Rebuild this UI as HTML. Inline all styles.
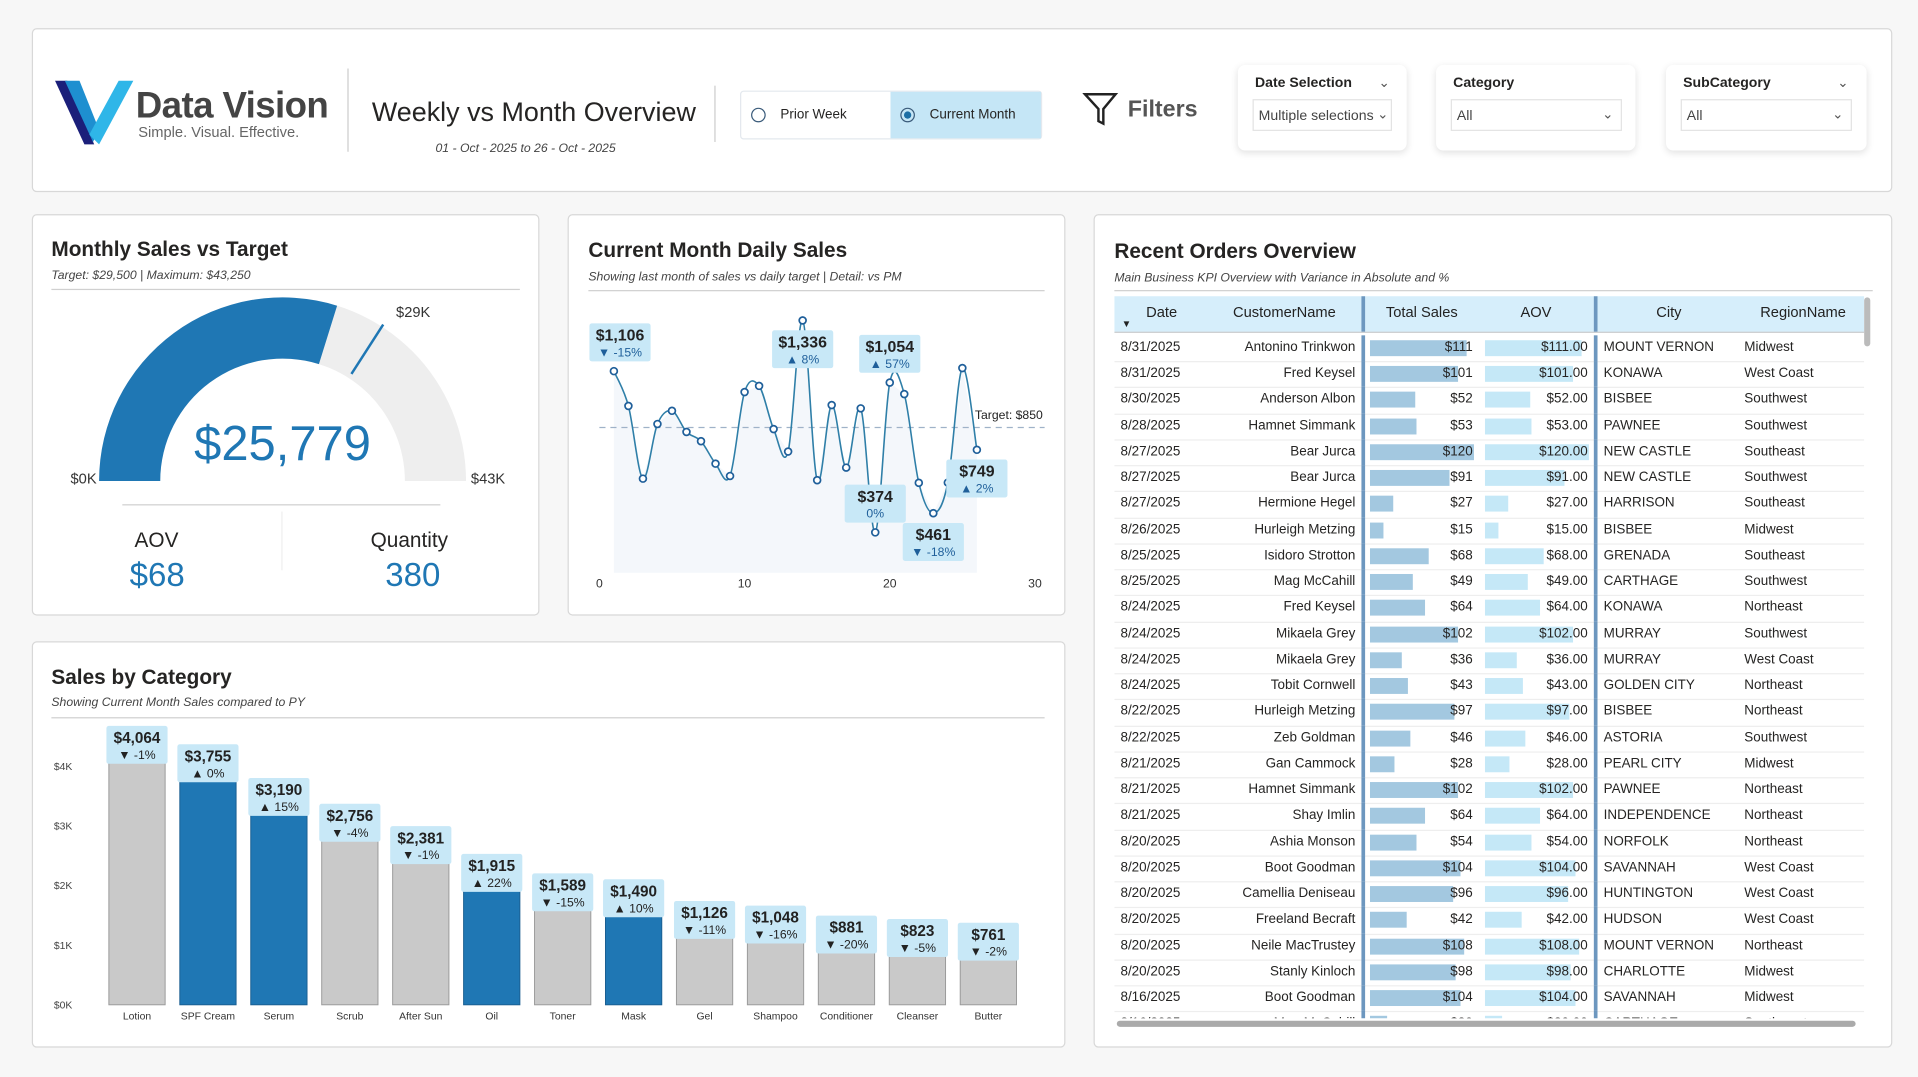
<!DOCTYPE html>
<html><head><meta charset="utf-8">
<style>
html,body{margin:0;padding:0;background:#f5f5f5;width:1918px;height:1077px;overflow:hidden;font-family:"Liberation Sans",sans-serif;}
#root{position:absolute;left:0;top:0;width:1568px;height:880px;transform:scale(1.22321,1.22386);transform-origin:0 0;background:#f7f7f7;}
.card{position:absolute;background:#fff;border:1px solid #d8d8d8;border-radius:4px;box-sizing:border-box;}
.abs{position:absolute;}
.title{position:absolute;font-size:17px;font-weight:bold;color:#252423;}
.sub{position:absolute;font-size:10px;font-style:italic;color:#444;}
.hr{position:absolute;height:1px;background:#d0d0d0;}
.slicer{position:absolute;background:#fff;border-radius:6px;box-shadow:0 2px 6px rgba(0,0,0,.12);}
.slicer .lab{position:absolute;left:14px;top:9px;font-size:11.5px;font-weight:bold;color:#252423;}
.slicer .box{position:absolute;left:12px;top:28px;height:26px;border:1px solid #e3e3e3;font-size:11.5px;color:#444;line-height:26px;padding-left:4px;box-sizing:border-box;}
.chev{position:absolute;font-size:11px;color:#555;}
</style></head><body>
<div id="root">

<div class="card" style="left:26px;top:23px;width:1521px;height:134px;">
  <svg class="abs" style="left:16px;top:38px" width="70" height="60">
    <polygon points="2,4 12,4 34,56 26,56" fill="#1b1f7a"/>
    <polygon points="10,4 22,4 38,44 33,54" fill="#1e8fd0"/>
    <polygon points="30,48 54,4 66,4 38,56" fill="#2fb6e8"/>
  </svg>
  <div class="abs" style="left:84px;top:46px;font-size:30px;font-weight:bold;color:#444;letter-spacing:-0.5px">Data Vision</div>
  <div class="abs" style="left:86px;top:77px;font-size:12px;color:#666">Simple. Visual. Effective.</div>
  <div class="abs" style="left:257px;top:32px;width:1px;height:68px;background:#ccc"></div>
  <div class="abs" style="left:277px;top:55px;font-size:22px;color:#252423">Weekly vs Month Overview</div>
  <div class="abs" style="left:329px;top:92px;font-size:10px;font-style:italic;color:#444">01 - Oct - 2025 to 26 - Oct - 2025</div>
  <div class="abs" style="left:557px;top:46px;width:1px;height:46px;background:#ccc"></div>
  <div class="abs" style="left:578px;top:50px;width:245px;height:38px;border:1px solid #e3e8ee;border-radius:3px;background:#fff">
    <div class="abs" style="left:0;top:0;width:121px;height:38px">
      <div class="abs" style="left:8px;top:13px;width:10px;height:10px;border:1px solid #3a5b7a;border-radius:50%"></div>
      <div class="abs" style="left:32px;top:13px;font-size:11px;color:#252423">Prior Week</div>
    </div>
    <div class="abs" style="left:122px;top:0;width:123px;height:38px;background:#c5e6f6">
      <div class="abs" style="left:8px;top:13px;width:10px;height:10px;border:1px solid #3a5b7a;border-radius:50%"><div class="abs" style="left:2px;top:2px;width:6px;height:6px;border-radius:50%;background:#1d6fa5"></div></div>
      <div class="abs" style="left:32px;top:13px;font-size:11px;color:#252423">Current Month</div>
    </div>
  </div>
  <svg class="abs" style="left:858px;top:50px" width="30" height="30"><path d="M2,3 L27,3 L17,15 L17,27 L13,25 L13,15 Z" fill="none" stroke="#222" stroke-width="2"/></svg>
  <div class="abs" style="left:895px;top:55px;font-size:19px;font-weight:bold;color:#555">Filters</div>
</div>
<div class="slicer" style="left:1012px;top:53px;width:138px;height:70px">
  <div class="lab">Date Selection</div><div class="chev" style="left:115px;top:8px">&#8964;</div>
  <div class="box" style="width:114px">Multiple selections<span class="chev" style="right:2px;top:-1px">&#8964;</span></div>
</div>
<div class="slicer" style="left:1174px;top:53px;width:163px;height:70px">
  <div class="lab">Category</div>
  <div class="box" style="width:140px">All<span class="chev" style="right:6px;top:-1px">&#8964;</span></div>
</div>
<div class="slicer" style="left:1362px;top:53px;width:164px;height:70px">
  <div class="lab">SubCategory</div><div class="chev" style="left:140px;top:8px">&#8964;</div>
  <div class="box" style="width:140px">All<span class="chev" style="right:6px;top:-1px">&#8964;</span></div>
</div>

<div class="card" style="left:26px;top:175px;width:415px;height:328px"></div>
<div class="title" style="left:42px;top:194px">Monthly Sales vs Target</div>
<div class="sub" style="left:42px;top:220px">Target: $29,500 | Maximum: $43,250</div>
<div class="hr" style="left:42px;top:236px;width:383px"></div>
<svg class="abs" style="left:26px;top:175px" width="415" height="328" id="gauge"></svg>
<div class="hr" style="left:100px;top:412px;width:260px"></div>
<div class="abs" style="left:230px;top:418px;width:1px;height:48px;background:#eee"></div>
<div class="abs" style="left:110px;top:432px;font-size:17px;color:#252423">AOV</div>
<div class="abs" style="left:106px;top:455px;font-size:27px;color:#1f77b4">$68</div>
<div class="abs" style="left:303px;top:432px;font-size:17px;color:#252423">Quantity</div>
<div class="abs" style="left:315px;top:455px;font-size:27px;color:#1f77b4">380</div>

<div class="card" style="left:464px;top:175px;width:407px;height:328px"></div>
<div class="title" style="left:481px;top:195px">Current Month Daily Sales</div>
<div class="sub" style="left:481px;top:221px">Showing last month of sales vs daily target | Detail: vs PM</div>
<div class="hr" style="left:481px;top:237px;width:373px"></div>
<svg class="abs" style="left:464px;top:175px" width="407" height="328" id="line"></svg>

<div class="card" style="left:26px;top:524px;width:845px;height:332px"></div>
<div class="title" style="left:42px;top:544px">Sales by Category</div>
<div class="sub" style="left:42px;top:569px">Showing Current Month Sales compared to PY</div>
<div class="hr" style="left:42px;top:586px;width:812px"></div>
<svg class="abs" style="left:26px;top:524px" width="845" height="332" id="bars"></svg>

<div class="card" style="left:894px;top:175px;width:653px;height:681px"></div>
<div class="title" style="left:911px;top:196px">Recent Orders Overview</div>
<div class="sub" style="left:911px;top:222px">Main Business KPI Overview with Variance in Absolute and %</div>
<div class="hr" style="left:911px;top:237px;width:620px"></div>
<div class="abs" style="left:911px;top:242px;width:613px;height:590px;overflow:hidden" id="tbl"></div>
<div class="abs" style="left:1524px;top:243px;width:5px;height:40px;background:#bbb;border-radius:3px"></div>
<div class="abs" style="left:913px;top:834px;width:604px;height:5px;background:#aaa;border-radius:3px"></div>
</div>

<script>
const NS='http://www.w3.org/2000/svg';
function mk(parent,tag,attrs,text){const e=document.createElementNS(NS,tag);for(const k in attrs)e.setAttribute(k,attrs[k]);if(text!==undefined)e.textContent=text;parent.appendChild(e);return e;}

const gaugeValue=25779;
const gaugeTarget=29500;
const gaugeMax=43250;
(function(){
  const g=document.getElementById('gauge');
  const cx=205,cy=218,R=150,r=100;
  function pt(f,rad){const a=Math.PI*(1-f);return [cx+rad*Math.cos(a),cy-rad*Math.sin(a)];}
  function arc(f0,f1,col,name){
    const a=pt(f0,R),b=pt(f1,R),c=pt(f1,r),d=pt(f0,r);
    const p=mk(g,'path',{d:`M${a} A${R},${R} 0 0 1 ${b} L${c} A${r},${r} 0 0 0 ${d} Z`,fill:col});
    
    
  }
  arc(0,1,'#eeeeee','gauge-track');
  arc(0,gaugeValue/gaugeMax,'#1f77b4','gauge-fill');
  const tf=gaugeTarget/gaugeMax;const t0=pt(tf,r+4),t1=pt(tf,R+2);
  const tl=mk(g,'line',{x1:t0[0],y1:t0[1],x2:t1[0],y2:t1[1],stroke:'#1f77b4','stroke-width':2});
  
  
  const tp=pt(tf,R+14);
  mk(g,'text',{x:tp[0]+4,y:tp[1]+4,'font-size':12,fill:'#333'},'$'+Math.floor(gaugeTarget/1000)+'K');
  mk(g,'text',{x:cx-R-2,y:cy+2,'font-size':12,fill:'#333','text-anchor':'end'},'$0K');
  mk(g,'text',{x:cx+R+4,y:cy+2,'font-size':12,fill:'#333'},'$'+Math.round(gaugeMax/1000)+'K');
  const v=mk(g,'text',{x:cx,y:cy-17,'font-size':40,fill:'#1f77b4','text-anchor':'middle'},'$'+gaugeValue.toLocaleString('en-US'));
  
  
})();

const days=[1,2,3,4,5,6,7,8,9,10,11,12,13,14,15,16,17,18,19,20,21,22,23,24,25,26];
const dailySales=[1106,948,618,866,926,830,788,686,630,1011,1039,843,741,1336,611,952,668,937,374,1054,1002,599,461,600,1120,749];
const labelDays=[1,14,19,20,23,26];
const labelPct=['-15%','8%','0%','57%','-18%','2%'];
const labelDir=['down','up','none','up','down','up'];
const labelBelow=[false,true,false,false,true,true];
const dailyTarget=850;
const xTicks=[0,10,20,30];
(function(){
  const g=document.getElementById('line');
  const xs=d=>26+d*11.87;
  const Y=v=>260-(v-374)*0.18;
  const base=293;
  xTicks.forEach(t=>mk(g,'text',{x:xs(t),y:305,'font-size':10,fill:'#333','text-anchor':'middle'},t));
  let d='M'+xs(days[0])+','+base;
  days.forEach((dd,i)=>d+=' L'+xs(dd)+','+Y(dailySales[i]));
  d+=' L'+xs(days[days.length-1])+','+base+' Z';
  const area=mk(g,'path',{d:d,fill:'#f4f7fb'});
  
  
  const ty=Y(dailyTarget);
  const tl=mk(g,'line',{x1:26,y1:ty,x2:390,y2:ty,stroke:'#9fb2c8','stroke-dasharray':'5,4'});
  
  
  mk(g,'text',{x:333,y:ty-7,'font-size':10,fill:'#222'},'Target: $'+dailyTarget);
  const P=days.map((dd,i)=>[xs(dd),Y(dailySales[i])]);
  let path='M'+P[0];
  for(let i=0;i<P.length-1;i++){const p0=P[i-1]||P[i],p1=P[i],p2=P[i+1],p3=P[i+2]||P[i+1];
    const c1=[p1[0]+(p2[0]-p0[0])/6,p1[1]+(p2[1]-p0[1])/6],c2=[p2[0]-(p3[0]-p1[0])/6,p2[1]-(p3[1]-p1[1])/6];
    path+=` C${c1} ${c2} ${p2}`;}
  const ln=mk(g,'path',{d:path,fill:'none',stroke:'#2f7fa8','stroke-width':1.3});
  
  
  P.forEach((p,i)=>{const c=mk(g,'circle',{cx:p[0],cy:p[1],r:2.8,fill:'#fff',stroke:'#1f5f9a','stroke-width':1.4});
    
    });
  labelDays.forEach((dd,k)=>{
    const i=days.indexOf(dd),v=dailySales[i],x=xs(dd),y=Y(v);
    const w=50;
    const by=labelBelow[k]?y+8:y-39;
    let bx=x-25; if(dd===1)bx=x-20;
    const r=mk(g,'rect',{x:bx,y:by,width:w,height:31,fill:'#c8e8f7',rx:2});
    
    
    mk(g,'text',{x:bx+w/2,y:by+14,'font-size':13,'font-weight':'bold',fill:'#222','text-anchor':'middle'},'$'+v.toLocaleString('en-US'));
    const arrow=labelDir[k]==='up'?'▲ ':labelDir[k]==='down'?'▼ ':'';
    mk(g,'text',{x:bx+w/2,y:by+27,'font-size':10,fill:'#1f5f9a','text-anchor':'middle'},arrow+labelPct[k]);
  });
})();

const categories=['Lotion','SPF Cream','Serum','Scrub','After Sun','Oil','Toner','Mask','Gel','Shampoo','Conditioner','Cleanser','Butter'];
const catSales=[4064,3755,3190,2756,2381,1915,1589,1490,1126,1048,881,823,761];
const catPct=['-1%','0%','15%','-4%','-1%','22%','-15%','10%','-11%','-16%','-20%','-5%','-2%'];
const catUp=[false,true,true,false,false,true,false,true,false,false,false,false,false];
const yTicks=[0,1000,2000,3000,4000];
const yTickLabels=['$0K','$1K','$2K','$3K','$4K'];
(function(){
  const g=document.getElementById('bars');
  const base=297;const Y=v=>base-v*0.0487;
  const X=i=>86+i*58;
  yTicks.forEach((t,i)=>mk(g,'text',{x:18,y:Y(t)+3,'font-size':8.5,fill:'#444'},yTickLabels[i]));
  categories.forEach((c,i)=>{
    const v=catSales[i],x=X(i),y=Y(v);
    const r=mk(g,'rect',{x:x-23,y:y,width:46,height:base-y,fill:catUp[i]?'#1f77b4':'#c9c9c9',stroke:catUp[i]?'#1a5f92':'#9a9a9a','stroke-width':0.8});
    
    
    mk(g,'text',{x:x,y:base+12,'font-size':8.5,fill:'#333','text-anchor':'middle'},c);
    const lb=mk(g,'rect',{x:x-25,y:y-30,width:50,height:31,fill:'#c8e8f7',rx:2});
    
    
    mk(g,'text',{x:x,y:y-16,'font-size':12.5,'font-weight':'bold',fill:'#222','text-anchor':'middle'},'$'+v.toLocaleString('en-US'));
    mk(g,'text',{x:x,y:y-3,'font-size':10,fill:'#222','text-anchor':'middle'},(catUp[i]?'▲ ':'▼ ')+catPct[i]);
  });
})();

const orderDates=['8/31/2025','8/31/2025','8/30/2025','8/28/2025','8/27/2025','8/27/2025','8/27/2025','8/26/2025','8/25/2025','8/25/2025','8/24/2025','8/24/2025','8/24/2025','8/24/2025','8/22/2025','8/22/2025','8/21/2025','8/21/2025','8/21/2025','8/20/2025','8/20/2025','8/20/2025','8/20/2025','8/20/2025','8/20/2025','8/16/2025','8/16/2025'];
const orderCustomers=['Antonino Trinkwon','Fred Keysel','Anderson Albon','Hamnet Simmank','Bear Jurca','Bear Jurca','Hermione Hegel','Hurleigh Metzing','Isidoro Strotton','Mag McCahill','Fred Keysel','Mikaela Grey','Mikaela Grey','Tobit Cornwell','Hurleigh Metzing','Zeb Goldman','Gan Cammock','Hamnet Simmank','Shay Imlin','Ashia Monson','Boot Goodman','Camellia Deniseau','Freeland Becraft','Neile MacTrustey','Stanly Kinloch','Boot Goodman','Mag McCahill'];
const orderSales=[111,101,52,53,120,91,27,15,68,49,64,102,36,43,97,46,28,102,64,54,104,96,42,108,98,104,20];
const orderAov=[111,101,52,53,120,91,27,15,68,49,64,102,36,43,97,46,28,102,64,54,104,96,42,108,98,104,20];
const orderCities=['MOUNT VERNON','KONAWA','BISBEE','PAWNEE','NEW CASTLE','NEW CASTLE','HARRISON','BISBEE','GRENADA','CARTHAGE','KONAWA','MURRAY','MURRAY','GOLDEN CITY','BISBEE','ASTORIA','PEARL CITY','PAWNEE','INDEPENDENCE','NORFOLK','SAVANNAH','HUNTINGTON','HUDSON','MOUNT VERNON','CHARLOTTE','SAVANNAH','CARTHAGE'];
const orderRegions=['Midwest','West Coast','Southwest','Southwest','Southeast','Southwest','Southeast','Midwest','Southeast','Southwest','Northeast','Southwest','West Coast','Northeast','Northeast','Southwest','Midwest','Northeast','Northeast','Northeast','West Coast','West Coast','West Coast','Northeast','Midwest','Midwest','Southwest'];
(function(){
  const t=document.getElementById('tbl');
  const sep='border-left:3px solid #6d97bf;';
  let h=`<div style="position:absolute;left:0;top:0;width:613px;height:29px;background:#d6eefb;font-size:12px;color:#222;border-bottom:1px solid #ccc">
  <span style="position:absolute;left:26px;top:6px">Date</span><span style="position:absolute;left:6px;top:18px;font-size:8px">▼</span>
  <span style="position:absolute;left:97px;top:6px">CustomerName</span>
  <span style="position:absolute;left:202px;top:0;height:29px;${sep}"></span>
  <span style="position:absolute;left:222px;top:6px">Total Sales</span>
  <span style="position:absolute;left:332px;top:6px">AOV</span>
  <span style="position:absolute;left:392px;top:0;height:29px;${sep}"></span>
  <span style="position:absolute;left:443px;top:6px">City</span>
  <span style="position:absolute;left:528px;top:6px">RegionName</span></div>`;
  const rh=21.24;
  orderDates.forEach((d,i)=>{
    const top=32+i*rh;
    h+=`<div style="position:absolute;left:0;top:${top}px;width:613px;height:${rh}px;font-size:11px;color:#252423;border-bottom:1px solid #eee;line-height:${rh}px">
    <span style="position:absolute;left:5px">${d}</span>
    <span style="position:absolute;right:416px">${orderCustomers[i]}</span>
    <span style="position:absolute;left:202px;top:0;height:${rh}px;${sep}"></span>
    <span style="position:absolute;left:209px;top:4px;height:13px;width:${orderSales[i]*0.71}px;background:#a3c8e0"></span>
    <span style="position:absolute;right:320px">$${orderSales[i]}</span>
    <span style="position:absolute;left:303px;top:4px;height:13px;width:${orderAov[i]*0.71}px;background:#c5e8f7"></span>
    <span style="position:absolute;right:226px">$${orderAov[i].toFixed(2)}</span>
    <span style="position:absolute;left:392px;top:0;height:${rh}px;${sep}"></span>
    <span style="position:absolute;left:400px">${orderCities[i]}</span>
    <span style="position:absolute;left:515px">${orderRegions[i]}</span></div>`;
  });
  t.innerHTML=h;
})();
</script>
</body></html>
